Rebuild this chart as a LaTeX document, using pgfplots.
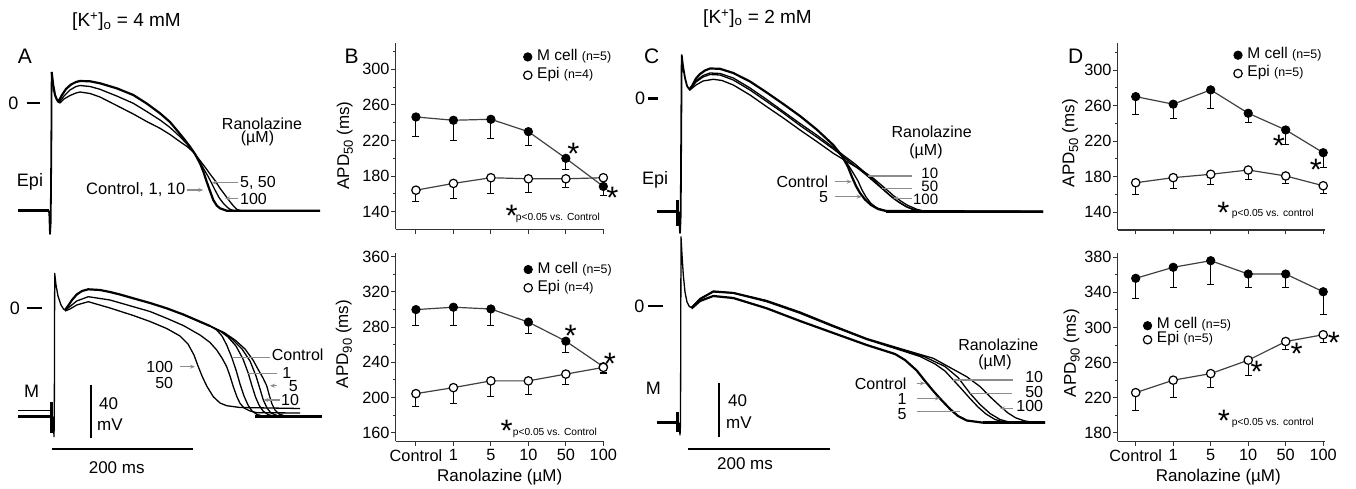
\documentclass[border=0pt]{standalone}
\usepackage{fontspec}
\setmainfont{Liberation Sans}
\usepackage{pgfplots}
\pgfplotsset{compat=1.18}
\usetikzlibrary{arrows.meta}
\newcommand{\fs}[1]{\fontsize{#1}{#1}\selectfont}
\newcommand{\sub}[1]{\raisebox{-0.22em}{\fs{13}#1}}
\definecolor{arrgray}{gray}{0.55}
\tikzset{
 garrow/.style={arrgray, line width=1.1pt, -{Stealth[length=5pt,width=4pt]}},
 gline/.style={arrgray, line width=1.1pt},
 lab/.style={font=\fs{15}, inner sep=0pt},
}
\pgfplotsset{
 trace/.style={black, line width=1.3pt, line join=round, no markers},
 tracethick/.style={black, line width=2.2pt, line join=round, no markers},
 apdaxis/.style={
  scale only axis,
  axis x line*=bottom, axis y line*=left,
  axis line style={line width=1.3pt, black!80},
  tick align=outside,
  major tick length=4.5pt, minor tick length=3pt,
  every tick/.style={line width=1pt, black!80},
  xtick={0,...,5},
  tick label style={font=\fs{16.3}},
  yticklabel style={inner xsep=1.5pt},
  /pgf/number format/assume math mode=true,
  clip=false,
  every axis y label/.style={rotate=90, anchor=center, font=\fs{17}},
  every axis x label/.style={anchor=center, font=\fs{17}},
  error bars/y dir=minus, error bars/y explicit,
  error bars/error bar style={line width=1pt, black},
  error bars/error mark options={rotate=90, line width=1pt, mark size=3.5pt, black},
  legend image code/.code={\draw[#1] plot coordinates {(4.2pt,0pt)}; \path (0pt,0pt) (12pt,0pt);},
  legend cell align=left,
  legend style={draw=none, fill=none, anchor=north west, font=\fs{15.5}, inner sep=0pt,
     nodes={inner ysep=0pt, inner xsep=1pt, text height=11pt, text depth=4pt}, row sep=3.3pt},
 },
 mser/.style={black!75, line width=1.2pt, mark=*, mark size=4.2pt, mark options={fill=black, draw=black, line width=0.8pt}},
 eser/.style={black!75, line width=1.2pt, mark=*, mark size=4.2pt, mark options={fill=white, draw=black, line width=1.2pt}},
}

\begin{document}
\begin{tikzpicture}
\useasboundingbox (0,0) rectangle (1356pt,489pt);
% ================= traces (A and C) in pixel coordinates =================
\begin{axis}[at={(0pt,0pt)}, anchor=south west, scale only axis, width=1356pt, height=489pt,
  xmin=0, xmax=1356, ymin=0, ymax=489, y dir=reverse, hide axis, clip=false]
% ---- A, Epi ----
\addplot[tracethick, line width=2.6pt] coordinates {(18.3,210.7) (48.5,210.7)};
\addplot[trace, line width=1.8pt] coordinates {(48.5,210.7) (49.3,213) (50,234) (50.7,222) (51.3,150) (51.7,72)};
\addplot[tracethick] coordinates {(51.7,72) (53,84) (55,95) (57,100) (59,100.5) (62,95) (66,89) (71,84.5) (76,82) (80,81) (90,81.3) (100,83.3) (116.7,88.3) (133.3,95) (146.7,103.5) (160,113.3) (170,122) (176.7,130) (183.3,138) (190,146.7) (195,154) (200,163.3) (203.5,172) (206.7,181.7) (210,191) (213.3,200) (216.7,205.5) (220,208.3) (226.7,210.7) (320,210.7)};
\addplot[trace] coordinates {(57,101) (60,101.5) (64,96) (70,90) (76,86.5) (80,85.5) (90,86.5) (100,89.3) (116.7,96) (133.3,103.3) (146.7,111.5) (160,120) (170,127.5) (180,136.7) (187,144) (193.3,151.7) (200,162) (204,169.5) (208.3,176.7) (212,184) (215,190) (219,197.5) (223.3,203.3) (227,207) (230,209.3) (234,210.7)};
\addplot[trace] coordinates {(57,101.5) (60,103) (64,99) (70,95.5) (76,93) (80,92) (90,93.5) (100,97) (116.7,105.5) (133.3,114) (146.7,121.5) (160,128.3) (170,134.5) (180,141.7) (187,146.5) (193.3,152) (200,160.5) (205,167) (210,174) (215,180.5) (220,188.3) (225,195) (230,201.7) (233.5,206) (236.7,209.3) (241,210.7)};
\addplot[tracethick] coordinates {(226.7,210.7) (320,210.7)};
% ---- A, M ----
\addplot[trace, line width=1pt] coordinates {(18.3,410) (50,410)};
\addplot[tracethick, line width=2.6pt] coordinates {(18.3,416.7) (50,416.7)};
\addplot[black, line width=3pt] coordinates {(51.7,401.7) (51.7,433.3)};
\addplot[trace] coordinates {(53.3,416.7) (54,436.7) (54.3,420) (54.7,273.3) (56,285) (58,296) (61,305) (63.5,309) (65,310)};
\addplot[tracethick] coordinates {(65,310) (68,306) (72,300) (76.7,294.5) (82,291) (88.3,289.3) (100,290) (110,292) (120,294.5) (133.3,298.3) (150,303) (166.7,308.3) (183.3,314.5) (200,321.7) (210,326)};
\addplot[trace] coordinates {(210,326) (216.7,330) (222,336) (226.7,345) (231.7,357.3) (236,370) (240,384) (244,396) (248,405) (252,411) (257,414.5) (263,416) (270,416.7)};
\addplot[trace] coordinates {(210,326) (220,331) (228,337) (236,346) (243,359) (248.3,373.3) (252,386) (255.5,397) (259,405) (263,411) (268,414.5) (275,416.5)};
\addplot[trace] coordinates {(210,326) (222,332) (232,339) (242,349) (250,361) (256,376) (260,389) (263.3,400) (267,408) (271,413) (277,415.5) (285,416.7)};
\addplot[trace] coordinates {(210,326) (224,332.5) (235,340) (245,349) (253,360) (259,371) (263,378) (266.7,385.7) (269.5,396) (272,404) (275,410) (279,414) (286,416.3)};
\addplot[tracethick, line width=2.6pt] coordinates {(255,416.7) (321.7,416.7)};
\addplot[trace] coordinates {(65,310.5) (70,306.5) (76.7,301) (88.3,296.7) (110,300) (133.3,306.7) (150,311.5) (166.7,318.3) (183.3,325.5) (200,335) (210,342.5) (216.7,350) (222,358) (226.7,366.7) (230,376) (233.3,386.7) (237,397) (240,403.3) (244,408) (250,411) (256.7,412.7) (300,413)};
\addplot[trace] coordinates {(65,311) (70,309) (76.7,305) (88.3,301.7) (110,308) (133.3,315.5) (150,321.5) (166.7,328.5) (180,336) (188,344) (194,355) (198,366) (202,376) (207,386.5) (213.3,396.7) (220,403) (226.7,405.7) (240,407.5) (300,408.5)};
% ---- C, Epi ----
\addplot[tracethick, line width=2.6pt] coordinates {(656.7,211.7) (676,211.7)};
\addplot[black, line width=3pt] coordinates {(677.5,200) (677.5,226)};
\addplot[trace, line width=1.8pt] coordinates {(679,211.7) (680,233) (680.7,215) (681.7,55) (683,66) (685,78) (687,86) (689.3,89.3)};
\addplot[tracethick] coordinates {(689.3,89.3) (692,86) (696,78.5) (700,74) (705,70.5) (710,68.5) (720,68.8) (733.3,73) (750,81.5) (766.7,92.5) (783.3,104) (800,116) (816.7,129.5) (833.3,145) (842,156) (848,167) (852,177) (856,186) (860,193) (865,199.5) (871,205) (878,209) (886,211) (1043,211.7)};
\addplot[trace] coordinates {(833.3,146.7) (845,160) (852,171) (858,181) (862,190) (866,197) (871,203.5) (877,208) (885,210.5) (895,211.5)};
\addplot[trace] coordinates {(689.3,90) (696,81) (703,75.5) (710,73) (720,73.5) (733.3,78) (750,88) (766.7,99.5) (783.3,111.5) (800,123.5) (816.7,135) (833.3,147.5) (845,156.5) (855,164) (862,170) (870,176.7) (876.7,183) (885,191) (893.3,198.3) (900,203) (906.7,207) (914,210) (922,211.5)};
\addplot[trace] coordinates {(689.3,90) (696,82) (703,77) (710,74.5) (720,75) (733.3,80) (750,90) (766.7,101.5) (783.3,113) (800,125.5) (816.7,137) (833.3,149) (845,158) (855,166) (865,174) (872,180) (881.7,188.3) (890,195.5) (898,201.5) (906,206.5) (914,209.5) (924,211.5)};
\addplot[trace] coordinates {(689.3,90.5) (696,85) (703,81) (713.3,79.3) (722,80.5) (733.3,85) (750,95) (766.7,106.7) (783.3,118) (800,130) (816.7,141.5) (833.3,153.3) (850,163.5) (862,170.5) (873,178) (883,186.5) (893.3,195.5) (900,200.5) (907,205) (916.7,209.3) (926,211.5)};
\addplot[tracethick, line width=2.6pt] coordinates {(886,211.5) (1043,211.7)};
% ---- C, M ----
\addplot[tracethick, line width=2.6pt] coordinates {(656.7,422.7) (676,422.7)};
\addplot[black, line width=3pt] coordinates {(677.5,412) (677.5,432)};
\addplot[trace] coordinates {(679,422.7) (680,435) (680.5,425) (681,236.7) (682,255) (683.3,275) (685,292) (687,302) (689.3,306.5) (691.5,307.5)};
\addplot[tracethick] coordinates {(691.5,308.5) (700,301) (713.3,296) (733.3,298) (766.7,308.3) (800,321) (833.3,333) (866.7,345) (895,354) (905,360) (916.7,370.5) (925,381) (933.3,391) (940,398.5) (950,409) (958,416) (966.7,420.5) (983.3,422.7) (1045,422.7)};
\addplot[trace] coordinates {(691.5,307.5) (700,299.5) (713.3,292) (733.3,293.3) (766.7,301.7) (800,313.3) (833.3,326.7) (866.7,339.5) (900,350) (920,356.5) (935,364) (945,371) (953.3,380) (962,389.5) (970,398.5) (978,407) (986,414) (995,419.5) (1005,422.3) (1015,422.7)};
\addplot[trace] coordinates {(691.5,307.5) (700,299) (713.3,291.5) (733.3,293) (766.7,301) (800,312.5) (833.3,326) (866.7,339) (900,349.5) (925,357) (945,366.5) (958,377.5) (970,393.3) (980,404.5) (990,413.5) (1000,419.5) (1010,422.3) (1020,422.7)};
\addplot[trace] coordinates {(691.5,307.5) (700,298.5) (713.3,291) (733.3,292.5) (766.7,300.5) (800,312) (833.3,325.5) (866.7,338.5) (900,348.5) (933.3,358.3) (966.7,376.7) (980,386.5) (990,396.7) (1000,406) (1008,413) (1016,418) (1025,421) (1035,422.5) (1045,422.7)};
\addplot[tracethick, line width=2.6pt] coordinates {(983.3,422.7) (1045,422.7)};

% ---- titles and panel letters ----
\node[font=\fs{19}] at (126.5,21.7) {[K\textsuperscript{+}]\textsubscript{o} = 4 mM};
\node[font=\fs{19}] at (757.5,18.3) {[K\textsuperscript{+}]\textsubscript{o} = 2 mM};
\node[font=\fs{21}] at (25,56.7) {A};
\node[font=\fs{21}] at (351.7,56.7) {B};
\node[font=\fs{21}] at (651.7,56.7) {C};
\node[font=\fs{21}] at (1075.7,56.7) {D};
\node[font=\fs{18}] at (30,181.7) {Epi};
\node[font=\fs{18}] at (655,180) {Epi};
\node[font=\fs{18}] at (31.7,391.7) {M};
\node[font=\fs{18}] at (653.3,388.3) {M};
\node[font=\fs{18}] at (13.3,103.3) {0};
\draw[black, line width=2pt] (26.7,103.3) -- (40,103.3);
\node[font=\fs{18}] at (15,308.3) {0};
\draw[black, line width=2pt] (26.7,308.3) -- (41.7,308.3);
\node[font=\fs{18}] at (640,98.3) {0};
\draw[black, line width=3pt] (648.3,98.3) -- (658.3,98.3);
\node[font=\fs{18}] at (639.3,306) {0};
\draw[black, line width=2pt] (648.3,306) -- (663.3,306);
% A Epi labels
\node[lab, font=\fs{16}] at (262,123.3) {Ranolazine};
\node[lab, font=\fs{16}] at (257.5,138.8) {(µM)};
\node[lab, font=\fs{16}, anchor=west] at (240,182.7) {5, 50};
\node[lab, font=\fs{16}, anchor=west] at (240,199) {100};
\node[lab, font=\fs{16.5}, anchor=east] at (185.5,190) {Control, 1, 10};
\draw[garrow] (186.7,190) -- (203.3,190);
\draw[garrow] (238.3,182.7) -- (211.7,182.7);
\draw[garrow] (238.3,198.3) -- (225,198.3);
% A M labels
\node[lab, font=\fs{16}, anchor=west] at (271.7,355) {Control};
\node[lab, font=\fs{16}] at (286.7,373.3) {1};
\node[lab, font=\fs{16}] at (293.3,385.7) {5};
\node[lab, font=\fs{16}] at (290,400) {10};
\node[lab, font=\fs{16}, anchor=east] at (173.3,366.7) {100};
\node[lab, font=\fs{16}, anchor=east] at (173.3,382.7) {50};
\draw[gline] (270,357.3) -- (231.7,357.3);
\draw[gline] (276.7,373.3) -- (248.3,373.3);
\draw[garrow] (276.7,385.7) -- (270,385.7);
\draw[garrow] (280,400) -- (263.3,400);
\draw[garrow] (180,366.7) -- (195,366.7);
% A scale bars
\draw[black, line width=2pt] (90.7,385) -- (90.7,438.3);
\node[font=\fs{17}, anchor=west, inner sep=0pt] at (99,404) {40};
\node[font=\fs{17}, anchor=west, inner sep=0pt] at (97,425) {mV};
\draw[black, line width=2pt] (51.7,449.3) -- (193.3,449.3);
\node[font=\fs{17}] at (116.7,467.3) {200 ms};
% C Epi labels
\node[lab, font=\fs{16}] at (931.7,131.7) {Ranolazine};
\node[lab, font=\fs{16}] at (926,151) {(µM)};
\node[lab, anchor=east] at (938.3,173.3) {10};
\node[lab, anchor=east] at (938.3,186.5) {50};
\node[lab, anchor=east] at (938.3,199.5) {100};
\node[lab, font=\fs{16}, anchor=east] at (828.3,181.7) {Control};
\node[lab, font=\fs{16}, anchor=east] at (828.3,196.7) {5};
\draw[gline] (911.7,176) -- (868.3,176);
\draw[gline] (911.7,188.3) -- (881.7,188.3);
\draw[garrow] (911.7,198.3) -- (893.3,198.3);
\draw[garrow] (835,181.7) -- (851.7,181.7);
\draw[garrow] (835,196.7) -- (861.7,196.7);
% C M labels
\node[lab, font=\fs{16}] at (998.3,345) {Ranolazine};
\node[lab, font=\fs{16}] at (995,362) {(µM)};
\node[lab, font=\fs{16}, anchor=east] at (1043.3,376.7) {10};
\node[lab, font=\fs{16}, anchor=east] at (1043.3,391.5) {50};
\node[lab, font=\fs{16}, anchor=east] at (1043.3,406) {100};
\node[lab, font=\fs{16}, anchor=east] at (906.7,383.3) {Control};
\node[lab, font=\fs{16}, anchor=east] at (906.7,398.5) {1};
\node[lab, font=\fs{16}, anchor=east] at (906.7,414.5) {5};
\draw[gline] (1013.3,380) -- (953.3,380);
\draw[gline] (1011.7,393.3) -- (970,393.3);
\draw[garrow] (1013.3,408.3) -- (1000,408.3);
\draw[garrow] (916.7,383.3) -- (925,383.3);
\draw[garrow] (916.7,398.3) -- (940,398.3);
\draw[gline] (916.7,411.7) -- (960,411.7);
% C scale bars
\draw[black, line width=2pt] (719.3,383.3) -- (719.3,436.7);
\node[font=\fs{17}, anchor=west, inner sep=0pt] at (728,400.7) {40};
\node[font=\fs{17}, anchor=west, inner sep=0pt] at (726,422.7) {mV};
\draw[black, line width=2pt] (688.3,449) -- (830,449);
\node[font=\fs{17}] at (745,463.3) {200 ms};
% significance stars and notes
\node[font=\fs{31}, inner sep=0pt] at (573.3,154.3) {*};
\node[font=\fs{31}, inner sep=0pt] at (612.3,197.7) {*};
\node[font=\fs{31}, inner sep=0pt] at (570.7,336) {*};
\node[font=\fs{31}, inner sep=0pt] at (610,364.3) {*};
\node[font=\fs{31}, inner sep=0pt] at (1279,146) {*};
\node[font=\fs{31}, inner sep=0pt] at (1316,170) {*};
\node[font=\fs{31}, inner sep=0pt] at (1256.7,372) {*};
\node[font=\fs{31}, inner sep=0pt] at (1296.7,353.7) {*};
\node[font=\fs{31}, inner sep=0pt] at (1334,342.7) {*};
\node[font=\fs{31}, inner sep=0pt] at (511.7,216) {*};
\node[font=\fs{10.2}, anchor=base west, inner sep=0pt] at (515.7,220) {p<0.05 vs. Control};
\node[font=\fs{31}, inner sep=0pt] at (506.7,431) {*};
\node[font=\fs{10.2}, anchor=base west, inner sep=0pt] at (512.7,435) {p<0.05 vs. Control};
\node[font=\fs{31}, inner sep=0pt] at (1223.3,212.7) {*};
\node[font=\fs{10.2}, anchor=base west, inner sep=0pt] at (1231.7,216.7) {p<0.05 vs. control};
\node[font=\fs{31}, inner sep=0pt] at (1224,421) {*};
\node[font=\fs{10.2}, anchor=base west, inner sep=0pt] at (1231.7,425.7) {p<0.05 vs. control};
\end{axis}

% ================= B top: APD50, 4 mM =================
\begin{axis}[apdaxis, at={(395.7pt,259.5pt)}, anchor=south west, width=208pt, height=186.8pt,
  xmin=-0.54, xmax=5.01, ymin=120, ymax=330, ytick={140,180,...,300}, minor ytick={160,200,...,320},
  xticklabels={}, ylabel={APD\sub{50} (ms)},
  ylabel style={at={(axis description cs:-0.244,0.45)}},
  legend style={at={(0.611,0.965)}}]
\addplot[mser] table[x=x, y=y, y error=e] {
x y e
0 246.5 22.5
1 242.8 22.8
2 243.9 21.9
3 230.0 15.4
4 200.0 12.5
5 168.4 9.8
};
\addlegendentry{M cell {\fs{12.4}(n=5)}}
\addplot[eser] table[x=x, y=y, y error=e] {
x y e
0 164.2 13.2
1 171.8 16.8
2 178.2 18.2
3 177.0 15.0
4 177.0 9.4
5 178.2 8.0
};
\addlegendentry{Epi {\fs{12.4}(n=4)}}
\end{axis}

% ================= B bottom: APD90, 4 mM =================
\begin{axis}[apdaxis, at={(395.7pt,47.5pt)}, anchor=south west, width=208pt, height=188.3pt,
  xmin=-0.54, xmax=5.01, ymin=150, ymax=364, ytick={160,200,...,360}, minor ytick={180,220,...,340},
  xticklabels={Control,1,5,10,50,100}, ylabel={APD\sub{90} (ms)},
  ylabel style={at={(axis description cs:-0.249,0.518)}},
  xlabel={Ranolazine (µM)}, xlabel style={at={(axis description cs:0.5,-0.189)}},
  legend style={at={(0.613,0.954)}}]
\addplot[mser] table[x=x, y=y, y error=e] {
x y e
0 299.9 18.0
1 302.6 20.6
2 300.6 18.6
3 285.7 13.3
4 264.0 12.6
5 235.0 7.0
};
\addlegendentry{M cell {\fs{12.4}(n=5)}}
\addplot[eser] table[x=x, y=y, y error=e] {
x y e
0 204.4 14.9
1 211.2 17.8
2 218.9 17.9
3 218.9 15.2
4 226.6 12.3
5 234.2 7.0
};
\addlegendentry{Epi {\fs{12.4}(n=4)}}
\end{axis}

% ================= D top: APD50, 2 mM =================
\begin{axis}[apdaxis, at={(1117.7pt,259pt)}, anchor=south west, width=207pt, height=186.6pt,
  xmin=-0.48, xmax=5.04, ymin=120, ymax=330, ytick={140,180,...,300}, minor ytick={160,200,...,320},
  xticklabels={}, ylabel={APD\sub{50} (ms)},
  ylabel style={at={(axis description cs:-0.23,0.465)}},
  legend style={at={(0.557,0.978)}}]
\addplot[mser] table[x=x, y=y, y error=e] {
x y e
0 270.1 20.6
1 261.6 15.8
2 277.7 20.7
3 251.4 10.6
4 232.6 16.9
5 207.0 17.0
};
\addlegendentry{M cell {\fs{12.4}(n=5)}}
\addplot[eser] table[x=x, y=y, y error=e] {
x y e
0 173.2 12.7
1 178.9 12.0
2 182.7 11.3
3 187.5 11.2
4 180.8 8.3
5 169.8 8.5
};
\addlegendentry{Epi {\fs{12.4}(n=5)}}
\end{axis}

% ================= D bottom: APD90, 2 mM =================
\begin{axis}[apdaxis, at={(1117.7pt,47.5pt)}, anchor=south west, width=207pt, height=188.6pt,
  xmin=-0.48, xmax=5.04, ymin=170, ymax=385, ytick={180,220,...,380}, minor ytick={200,240,...,360},
  xticklabels={Control,1,5,10,50,100}, ylabel={APD\sub{90} (ms)},
  ylabel style={at={(axis description cs:-0.222,0.468)}},
  xlabel={Ranolazine (µM)}, xlabel style={at={(axis description cs:0.486,-0.19)}},
  legend style={at={(0.12,0.652)}, row sep=0pt, nodes={text height=10pt, text depth=4pt}}]
\addplot[mser] table[x=x, y=y, y error=e] {
x y e
0 356.0 22.9
1 368.6 23.3
2 376.1 27.0
3 360.9 15.2
4 360.9 15.6
5 340.7 25.8
};
\addlegendentry{M cell {\fs{12.4}(n=5)}}
\addplot[eser] table[x=x, y=y, y error=e] {
x y e
0 225.7 20.9
1 239.9 19.9
2 247.4 16.0
3 262.7 17.9
4 284.0 9.5
5 291.7 8.8
};
\addlegendentry{Epi {\fs{12.4}(n=5)}}
\end{axis}
\end{tikzpicture}
\end{document}
